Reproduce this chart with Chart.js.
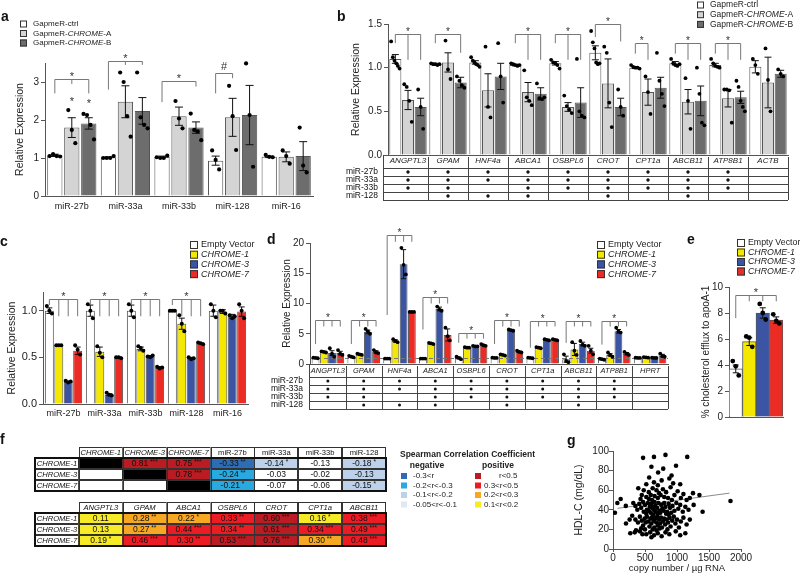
<!DOCTYPE html>
<html>
<head>
<meta charset="utf-8">
<title>CHROME figure</title>
<script src="https://cdn.jsdelivr.net/npm/chart.js@4.4.1/dist/chart.umd.min.js"></script>
<style>
  html, body { margin: 0; padding: 0; background: #fff; }
  #fig { position: relative; width: 800px; height: 574px; overflow: hidden; }
  #fig canvas { position: absolute; }
</style>
</head>
<body>
<div id="fig"></div>
<script>
// ---- a: GapmeR knockdown, miRNA levels
const aCats = ['miR-27b', 'miR-33a', 'miR-33b', 'miR-128', 'miR-16'];
const aCtrl = [1.07, 1.02, 1.03, 0.93, 1.03];
const aCtrlErr = [0.03, 0.01, 0.02, 0.12, 0.02];
const aCtrlDots = [[1.05, 1.1, 1.05, 1.04], [1.0, 1.0, 1.0, 1.05], [1.02, 1.0, 1.0, 1.06], [1.2, 0.95, 0.7], [1.08, 1.03, 1.02]];
const aGapA = [1.8, 2.48, 2.1, 2.07, 1.03];
const aGapAErr = [0.26, 0.42, 0.24, 0.5, 0.13];
const aGapADots = [[2.26, 1.74, 1.39], [3.25, 3.0, 2.1, 1.56], [2.5, 2.04, 1.78], [2.9, 2.1, 1.21], [1.2, 1.05, 0.85]];
const aGapB = [1.91, 2.24, 1.8, 2.13, 1.05];
const aGapBErr = [0.15, 0.35, 0.15, 0.78, 0.38];
const aGapBDots = [[2.16, 2.13, 1.87, 1.49], [3.25, 2.07, 1.87, 1.78], [2.17, 1.74, 1.7, 1.47], [3.49, 2.13, 0.77], [1.8, 0.8, 0.62]];

// ---- b: GapmeR knockdown, target genes
const bCats = ['ANGPTL3', 'GPAM', 'HNF4a', 'ABCA1', 'OSBPL6', 'CROT', 'CPT1a', 'ABCB11', 'ATP8B1', 'ACTB'];
const bCtrl = [1.10, 1.04, 1.06, 1.03, 1.05, 1.17, 1.00, 1.05, 1.03, 1.01];
const bCtrlErr = [0.05, 0.01, 0.02, 0.01, 0.02, 0.08, 0.01, 0.02, 0.02, 0.07];
const bCtrlDots = [[1.30, 1.12, 1.08, 1.05, 1.02, 0.99], [1.05, 1.04, 1.04, 1.03, 1.04], [1.12, 1.08, 1.06, 1.04, 1.03, 1.01],
  [1.05, 1.04, 1.03, 1.02, 1.03], [1.09, 1.06, 1.05, 1.03, 0.99], [1.42, 1.29, 1.22, 1.06, 1.04, 1.05],
  [1.03, 1.01, 1.00, 1.00, 0.99], [1.10, 1.05, 1.03, 1.02, 1.04], [1.10, 1.05, 1.02, 1.01, 1.00], [1.10, 1.03, 0.93]];
const bGapA = [0.63, 1.06, 0.74, 0.72, 0.55, 0.82, 0.72, 0.61, 0.65, 0.83];
const bGapAErr = [0.11, 0.11, 0.19, 0.11, 0.05, 0.28, 0.15, 0.14, 0.10, 0.29];
const bGapADots = [[0.81, 0.78, 0.62, 0.38], [1.31, 0.98, 0.87], [1.24, 0.55, 0.43], [0.97, 0.66, 0.62, 0.57],
  [0.68, 0.56, 0.52, 0.48], [1.24, 1.17, 0.6, 0.32], [0.9, 0.72, 0.47], [0.88, 0.62, 0.3], [0.75, 0.75, 0.74, 0.37], [1.22, 0.86, 0.5]];
const bGapB = [0.55, 0.83, 0.90, 0.70, 0.60, 0.55, 0.77, 0.62, 0.66, 0.93];
const bGapBErr = [0.10, 0.06, 0.15, 0.07, 0.17, 0.10, 0.12, 0.17, 0.07, 0.04];
const bGapBDots = [[0.75, 0.55, 0.30], [0.90, 0.85, 0.80, 0.77], [1.28, 0.90, 0.60], [0.82, 0.65, 0.64, 0.66],
  [1.10, 0.50, 0.45, 0.43], [0.75, 0.55, 0.45], [1.17, 0.85, 0.70, 0.56], [1.00, 0.70, 0.37, 0.34],
  [0.85, 0.78, 0.62, 0.55, 0.50], [0.98, 0.93, 0.90]];

// predicted miRNA targets (rows) per gene (columns)
const tblRows = ['miR-27b', 'miR-33a', 'miR-33b', 'miR-128'];
const bTargets = [
  [1, 1, 1, 1, 1, 1, 1, 1, 1, 0],
  [1, 1, 1, 1, 1, 1, 1, 1, 1, 0],
  [1, 1, 0, 1, 1, 1, 1, 1, 1, 0],
  [0, 1, 1, 1, 0, 1, 0, 1, 0, 0]];

// ---- c: overexpression, miRNA levels
const cCats = ['miR-27b', 'miR-33a', 'miR-33b', 'miR-128', 'miR-16'];
const cEV = [1.0, 1.0, 1.0, 1.0, 1.0];
const cEVErr = [0.03, 0.06, 0.06, 0.005, 0.06];
const cEVDots = [[1.05, 1.0, 0.97], [1.07, 1.0, 0.92], [1.07, 1.0, 0.93], [1.0, 1.0, 1.0], [1.07, 1.0, 0.93]];
const cC1 = [0.63, 0.56, 0.59, 0.86, 0.99];
const cC1Err = [0.005, 0.05, 0.02, 0.06, 0.02];
const cC1Dots = [[0.63, 0.63, 0.63], [0.62, 0.55, 0.5], [0.62, 0.6, 0.57], [0.95, 0.86, 0.78], [1.0, 1.0, 0.97]];
const cC3 = [0.24, 0.1, 0.51, 0.49, 0.94];
const cC3Err = [0.005, 0.01, 0.01, 0.01, 0.02];
const cC3Dots = [[0.25, 0.23, 0.24], [0.12, 0.1, 0.09], [0.51, 0.5, 0.52], [0.5, 0.48, 0.49], [0.95, 0.92, 0.94]];
const cC7 = [0.57, 0.5, 0.39, 0.65, 0.99];
const cC7Err = [0.04, 0.005, 0.01, 0.005, 0.05];
const cC7Dots = [[0.63, 0.58, 0.53], [0.5, 0.5, 0.49], [0.4, 0.38, 0.39], [0.66, 0.65, 0.64], [1.07, 1.0, 0.92]];

// ---- d: overexpression, target genes
const dCats = ['ANGPTL3', 'GPAM', 'HNF4a', 'ABCA1', 'OSBPL6', 'CROT', 'CPT1a', 'ABCB11', 'ATP8B1', 'HPRT'];
const dEV = [1.0, 1.2, 0.9, 0.9, 1.0, 1.0, 1.0, 0.8, 0.8, 1.0];
const dEVErr = [0.05, 0.1, 0.02, 0.02, 0.15, 0.05, 0.05, 0.5, 0.1, 0.05];
const dEVDots = [[1.05, 1.0, 0.95], [1.35, 1.2, 1.1], [0.9, 0.9, 0.9], [0.9, 0.9, 0.9], [1.2, 1.0, 0.8],
  [1.05, 1.0, 1.0], [1.05, 1.0, 0.95], [1.6, 0.5, 0.3], [0.9, 0.8, 0.7], [1.05, 1.0, 1.0]];
const dC1 = [2.0, 1.6, 3.8, 3.4, 2.7, 1.5, 2.7, 2.4, 1.5, 1.1];
const dC1Err = [0.1, 0.1, 0.2, 0.1, 0.1, 0.1, 0.1, 1.0, 0.2, 0.05];
const dC1Dots = [[2.1, 2.0, 1.9], [1.7, 1.6, 1.5], [4.1, 3.8, 3.6], [3.5, 3.4, 3.3], [2.8, 2.7, 2.7],
  [1.6, 1.5, 1.4], [2.8, 2.7, 2.6], [3.6, 2.2, 1.5], [1.9, 1.5, 1.2], [1.15, 1.1, 1.05]];
const dC3 = [1.8, 5.3, 16.5, 9.1, 2.9, 5.6, 4.0, 3.3, 5.4, 1.0];
const dC3Err = [0.4, 0.3, 2.4, 0.3, 0.05, 0.1, 0.1, 0.3, 0.3, 0.05];
const dC3Dots = [[2.6, 1.7, 1.2], [5.8, 5.4, 5.0], [19.2, 16.4, 14.8], [9.5, 9.0, 8.8], [3.0, 2.9, 2.9],
  [5.7, 5.6, 5.5], [4.1, 4.0, 3.9], [3.8, 3.2, 3.0], [6.0, 5.4, 5.2], [1.05, 1.0, 1.0]];
const dC7 = [1.8, 2.0, 8.6, 4.8, 3.1, 2.0, 4.0, 2.2, 1.7, 1.4];
const dC7Err = [0.3, 0.2, 0.05, 1.0, 0.1, 0.1, 0.1, 0.4, 0.2, 0.2];
const dC7Dots = [[2.3, 1.7, 1.5], [2.3, 1.9, 1.8], [8.6, 8.6, 8.6], [6.0, 4.6, 3.9], [3.3, 3.1, 3.0],
  [2.2, 2.0, 1.9], [4.1, 4.0, 3.9], [3.0, 2.2, 1.6], [2.0, 1.7, 1.5], [1.7, 1.3, 1.2]];
const dTargets = [
  [1, 1, 1, 1, 1, 1, 1, 1, 1, 0],
  [1, 1, 1, 1, 1, 1, 1, 1, 1, 0],
  [1, 1, 0, 1, 1, 1, 1, 1, 1, 0],
  [0, 1, 1, 1, 0, 1, 0, 1, 0, 0]];

// ---- e: cholesterol efflux
const eCats = [''];
const eEV = [3.7], eEVErr = [0.3], eEVDots = [[4.3, 3.9, 3.2]];
const eC1 = [5.8], eC1Err = [0.3], eC1Dots = [[6.2, 6.1, 5.4]];
const eC3 = [8.0], eC3Err = [0.4], eC3Dots = [[8.7, 8.0, 7.5]];
const eC7 = [7.45], eC7Err = [0.25], eC7Dots = [[7.9, 7.4, 7.2]];

// ---- f: Spearman correlations
const fRows = ['CHROME-1', 'CHROME-3', 'CHROME-7'];
const fCols1 = ['CHROME-1', 'CHROME-3', 'CHROME-7', 'miR-27b', 'miR-33a', 'miR-33b', 'miR-128'];
const fVals1 = [
  [null, 0.81, 0.75, -0.33, -0.14, -0.13, -0.18],
  [null, null, 0.78, -0.24, -0.03, -0.02, -0.13],
  [null, null, null, -0.21, -0.07, -0.06, -0.15]];
const fSig1 = [
  ['', '***', '***', '**', '*', '', '*'],
  ['', '', '***', '**', '', '', ''],
  ['', '', '', '*', '', '', '*']];
const fBin1 = [
  ['k', 'dr', 'dr', 'db', 'lb', 'w', 'lb'],
  ['w', 'k', 'dr', 'cy', 'w', 'w', 'lb'],
  ['w', 'w', 'k', 'cy', 'w', 'w', 'lb']];
const fCols2 = ['ANGPTL3', 'GPAM', 'ABCA1', 'OSBPL6', 'CROT', 'CPT1a', 'ABCB11'];
const fVals2 = [
  [0.11, 0.28, 0.22, 0.33, 0.60, 0.16, 0.38],
  [0.13, 0.27, 0.44, 0.34, 0.61, 0.34, 0.49],
  [0.19, 0.46, 0.30, 0.53, 0.76, 0.30, 0.48]];
const fSig2 = [
  ['', '**', '*', '**', '***', '*', '***'],
  ['', '**', '***', '**', '***', '***', '***'],
  ['*', '***', '**', '***', '***', '**', '***']];
const fBin2 = [
  ['y', 'o', 'o', 'r', 'dr', 'y', 'r'],
  ['y', 'o', 'r', 'r', 'dr', 'r', 'r'],
  ['y', 'r', 'r', 'dr', 'dr', 'o', 'r']];
const fNegLabels = ['-0.3<r', '-0.2<r<-0.3', '-0.1<r<-0.2', '-0.05<r<-0.1'];
const fNegBins = ['db', 'cy', 'lb', 'vl'];
const fPosLabels = ['r<0.5', '0.3<r<0.5', '0.2<r<0.3', '0.1<r<0.2'];
const fPosBins = ['dr', 'r', 'o', 'y'];

// ---- g: CHROME copy number vs HDL-C
const gCopies = [470, 640, 820, 1160, 600, 785, 985, 705, 565, 915, 880, 760, 640, 1050, 520, 700, 940,
  395, 480, 560, 620, 680, 720, 780, 830, 900, 960, 1010, 1100, 1250, 1350, 450, 520, 590, 650, 700, 745, 800, 860, 920, 1060, 1150, 1200, 430, 120, 560, 610,
  68, 30, 200, 317, 350, 380, 410, 440, 470, 500, 530, 545, 575, 600, 625, 650, 660, 690, 710, 730, 755, 770, 800, 820, 845, 870, 890, 930, 960, 990,
  1020, 1050, 1090, 1130, 1180, 1260, 1400, 1836, 480, 520, 560, 590, 630, 670, 700, 740, 790, 830, 870, 910, 650, 610,
  300, 350, 390, 420, 450, 470, 495, 510, 530, 550, 570, 585, 600, 615, 635, 645, 660, 675, 690, 700, 720, 735, 750, 765, 780, 800, 815, 840, 860, 885,
  900, 925, 950, 975, 1000, 1030, 1060, 1100, 1150, 1200, 203, 260, 440, 500, 620, 680, 730, 850,
  359, 421, 270, 340, 520, 580, 640, 700, 760, 820, 880, 980, 1130, 1050, 600, 460];
const gHdl = [93, 94, 96, 94, 84, 82, 85, 78, 73, 75, 72, 70, 68, 66, 66, 65, 67,
  62, 60, 58, 62, 60, 57, 61, 58, 63, 55, 59, 56, 57, 55, 55, 53, 55, 54, 52, 55, 53, 52, 50, 52, 50, 52, 51, 51, 51, 50,
  47, 37, 44, 47, 44, 40, 46, 42, 48, 45, 40, 47, 43, 46, 41, 48, 44, 42, 47, 39, 45, 41, 47, 43, 38, 46, 42, 44, 39, 47,
  41, 45, 38, 43, 40, 45, 38, 49, 38, 36, 39, 37, 35, 38, 36, 37, 39, 36, 35, 37, 39, 43,
  34, 30, 27, 33, 29, 24, 31, 27, 33, 28, 23, 31, 26, 33, 29, 22, 31, 27, 33, 24, 30, 26, 32, 22, 28, 31, 25, 30, 27, 32,
  23, 29, 33, 26, 30, 22, 28, 32, 25, 30, 26, 30, 21, 20, 20, 19, 21, 20,
  19, 18, 16, 17, 15, 17, 14, 16, 13, 17, 15, 18, 16, 14, 12, 15];
const gFitX = [70, 1820];
const gFitY = [41.5, 57];

// ------------------------------------------------------------------
const FONT = '"Liberation Sans", Arial, Helvetica, sans-serif';
const TXT = '#222';
const AXIS = '#555';
Chart.defaults.font.family = FONT;
Chart.defaults.color = TXT;

const GREY = { ctrl: '#ffffff', a: '#d4d4d4', b: '#6d6d6d' };
const OE = { ev: '#ffffff', c1: '#f5e800', c3: '#3b55a4', c7: '#ec2b24' };
const FCOL = { k: '#000000', w: '#ffffff', db: '#2e6db4', cy: '#29a9e0', lb: '#bdd2ea', vl: '#dfe9f5',
  dr: '#bb1b22', r: '#ec1c24', o: '#f7a823', y: '#f7ea26' };

const fig = document.getElementById('fig');

function addCanvas(left, top, w, h) {
  const c = document.createElement('canvas');
  c.width = w; c.height = h;
  c.style.left = left + 'px'; c.style.top = top + 'px';
  c.style.width = w + 'px'; c.style.height = h + 'px';
  fig.appendChild(c);
  return c;
}

function fnt(size, italic, bold) {
  return (italic ? 'italic ' : '') + (bold ? 'bold ' : '') + size + 'px ' + FONT;
}

// parts = [[text, italic], ...]
function richText(ctx, x, y, parts, size, center) {
  let w = 0;
  parts.forEach(([t, it]) => { ctx.font = fnt(size, it); w += ctx.measureText(t).width; });
  let cx = center ? x - w / 2 : x;
  ctx.textAlign = 'left';
  ctx.textBaseline = 'middle';
  parts.forEach(([t, it]) => {
    ctx.font = fnt(size, it);
    ctx.fillText(t, cx, y);
    cx += ctx.measureText(t).width;
  });
}

function drawLetter(ctx, l) {
  ctx.fillStyle = '#111';
  ctx.font = fnt(14, false, true);
  ctx.textAlign = 'left';
  ctx.textBaseline = 'middle';
  ctx.fillText(l.t, l.x, l.y);
}

function drawLegend(ctx, lg, series) {
  series.forEach((s, k) => {
    const y = lg.y + k * lg.step;
    ctx.fillStyle = s.color;
    ctx.fillRect(lg.x, y - lg.box / 2, lg.box, lg.box);
    ctx.strokeStyle = '#333';
    ctx.lineWidth = 1;
    ctx.strokeRect(lg.x + 0.5, y - lg.box / 2 + 0.5, lg.box - 1, lg.box - 1);
    ctx.fillStyle = TXT;
    richText(ctx, lg.x + lg.box + lg.gap, y, s.parts, lg.size);
  });
}

function drawGeneTable(chart, t) {
  const ctx = chart.ctx, xs = chart.scales.x, ca = chart.chartArea;
  const n = chart.data.labels.length, w = (xs.right - xs.left) / n;
  const top = ca.bottom, hb = top + t.headH, bot = hb + t.rowH * t.rows.length;
  const L = xs.left - t.ext;
  const px = v => Math.round(v) + 0.5;
  ctx.save();
  ctx.strokeStyle = '#444';
  ctx.lineWidth = 1;
  ctx.beginPath();
  ctx.moveTo(px(L), top); ctx.lineTo(px(L), bot);
  for (let k = 1; k <= n; k++) {
    const x = px(xs.left + k * w);
    ctx.moveTo(x, top + 2); ctx.lineTo(x, bot);
  }
  for (let r = 0; r <= t.rows.length; r++) {
    const y = px(hb + r * t.rowH);
    ctx.moveTo(L, y); ctx.lineTo(xs.right, y);
  }
  ctx.stroke();
  ctx.fillStyle = '#111';
  t.rows.forEach((name, r) => {
    const y = hb + (r + 0.5) * t.rowH;
    ctx.font = fnt(t.size);
    ctx.textAlign = 'right';
    ctx.textBaseline = 'middle';
    ctx.fillText(name, t.labelX, y);
    t.member[r].forEach((on, c) => {
      if (!on) return;
      ctx.beginPath();
      ctx.arc(xs.getPixelForValue(c), y, t.dotR, 0, Math.PI * 2);
      ctx.fill();
    });
  });
  ctx.restore();
}

// error bars, replicate dots, significance brackets, legend, panel letter
function barExtras(p) {
  return {
    id: 'barExtras',
    afterDatasetsDraw(chart) {
      const ctx = chart.ctx, ys = chart.scales.y, ca = chart.chartArea;
      ctx.save();
      if (p.dashAt !== undefined) {
        ctx.strokeStyle = '#777';
        ctx.lineWidth = 1;
        ctx.setLineDash([4, 3]);
        const yy = Math.round(ys.getPixelForValue(p.dashAt)) + 0.5;
        ctx.beginPath(); ctx.moveTo(ca.left, yy); ctx.lineTo(ca.right, yy); ctx.stroke();
        ctx.setLineDash([]);
      }
      p.series.forEach((s, di) => {
        chart.getDatasetMeta(di).data.forEach((bar, i) => {
          const m = s.mean[i], e = s.err[i];
          ctx.strokeStyle = '#111';
          ctx.lineWidth = 1;
          if (e > 0) {
            const yt = ys.getPixelForValue(m + e), yb = ys.getPixelForValue(Math.max(0, m - e));
            ctx.beginPath();
            ctx.moveTo(bar.x, yt); ctx.lineTo(bar.x, yb);
            ctx.moveTo(bar.x - p.cap, yt); ctx.lineTo(bar.x + p.cap, yt);
            ctx.moveTo(bar.x - p.cap, yb); ctx.lineTo(bar.x + p.cap, yb);
            ctx.stroke();
          }
          const pts = s.dots[i];
          const sp = pts.length > 1 ? Math.min(p.spread, bar.width * 0.7 / (pts.length - 1)) : 0;
          ctx.fillStyle = '#000';
          pts.forEach((v, k) => {
            ctx.beginPath();
            ctx.arc(bar.x + (k - (pts.length - 1) / 2) * sp, ys.getPixelForValue(v), p.r, 0, Math.PI * 2);
            ctx.fill();
          });
        });
      });
      ctx.strokeStyle = '#777';
      ctx.lineWidth = 1;
      ctx.fillStyle = '#333';
      ctx.font = fnt(p.starSize);
      ctx.textAlign = 'center';
      ctx.textBaseline = 'alphabetic';
      (p.brackets || []).forEach(b => {
        const xs = b.legs.map(([d]) => chart.getDatasetMeta(d).data[b.cat].x);
        const yh = Math.round(ys.getPixelForValue(b.h)) + 0.5;
        ctx.beginPath();
        ctx.moveTo(xs[0], yh); ctx.lineTo(xs[xs.length - 1], yh);
        b.legs.forEach(([, v], k) => { ctx.moveTo(xs[k], yh); ctx.lineTo(xs[k], ys.getPixelForValue(v)); });
        ctx.stroke();
        const lab = b.label || '*';
        ctx.fillText(lab, (xs[0] + xs[xs.length - 1]) / 2, yh - (lab === '#' ? 4 : 0));
      });
      (p.marks || []).forEach(mk => {
        const bar = chart.getDatasetMeta(mk.ds).data[mk.cat];
        ctx.fillText(mk.text, bar.x, ys.getPixelForValue(mk.v));
      });
      ctx.restore();
    },
    afterDraw(chart) {
      const ctx = chart.ctx;
      ctx.save();
      if (p.legend) drawLegend(ctx, p.legend, p.series);
      if (p.letter) drawLetter(ctx, p.letter);
      ctx.restore();
      if (p.table) drawGeneTable(chart, p.table);
    }
  };
}

function barPanel(p) {
  const canvas = addCanvas(p.left, p.top, p.width, p.height);
  return new Chart(canvas, {
    type: 'bar',
    data: {
      labels: p.labels,
      datasets: p.series.map(s => ({
        data: s.mean, backgroundColor: s.color, borderColor: '#555', borderWidth: 1
      }))
    },
    options: {
      responsive: false,
      animation: false,
      events: [],
      layout: { padding: p.pad },
      datasets: { bar: { categoryPercentage: p.cat, barPercentage: p.bar } },
      plugins: { legend: { display: false }, tooltip: { enabled: false } },
      scales: {
        x: {
          grid: { display: false, drawTicks: false },
          border: { color: AXIS },
          ticks: {
            display: p.xTicks !== false,
            font: { size: p.xSize, style: p.xItalic ? 'italic' : 'normal' },
            color: TXT, padding: p.xPad, autoSkip: false, maxRotation: 0
          },
          afterFit: s => { s.height = p.xH; }
        },
        y: {
          min: 0, max: p.yMax,
          border: { color: AXIS },
          grid: { drawOnChartArea: false, tickLength: 4, color: AXIS },
          ticks: { stepSize: p.step, font: { size: p.ySize }, color: TXT, padding: 2, callback: v => Number(v).toFixed(p.dec) },
          afterBuildTicks: s => {
            s.ticks = s.ticks.filter(t => Math.abs(t.value / p.step - Math.round(t.value / p.step)) < 1e-6);
          },
          title: { display: true, text: p.yTitle, font: { size: p.titleSize }, color: TXT, padding: 0 },
          afterFit: s => { s.width = p.yW; }
        }
      }
    },
    plugins: [barExtras(p)]
  });
}

const gapLegend = [[['GapmeR-ctrl']], [['GapmeR-'], ['CHROME', true], ['-A']], [['GapmeR-'], ['CHROME', true], ['-B']]];
const oeLegend = [[['Empty Vector']], [['CHROME-1', true]], [['CHROME-3', true]], [['CHROME-7', true]]];

// a
barPanel({
  left: 0, top: 0, width: 330, height: 215,
  pad: { left: 14, top: 63, right: 17, bottom: 0 },
  yW: 31, xH: 19, xPad: 5, xSize: 9, ySize: 10, titleSize: 10.5,
  labels: aCats, yMax: 3.5, step: 1, dec: 0, yTitle: 'Relative Expression',
  cat: 0.95, bar: 0.9, cap: 4, r: 2.1, spread: 3.5, starSize: 11,
  series: [
    { parts: gapLegend[0], color: GREY.ctrl, mean: aCtrl, err: aCtrlErr, dots: aCtrlDots },
    { parts: gapLegend[1], color: GREY.a, mean: aGapA, err: aGapAErr, dots: aGapADots },
    { parts: gapLegend[2], color: GREY.b, mean: aGapB, err: aGapBErr, dots: aGapBDots }
  ],
  brackets: [
    { cat: 0, h: 3.08, legs: [[0, 2.7], [1, 2.95], [2, 2.7]] },
    { cat: 1, h: 3.56, legs: [[0, 2.8], [1, 3.45], [2, 3.45]] },
    { cat: 2, h: 3.03, legs: [[0, 2.47], [2, 2.88]] },
    { cat: 3, h: 3.23, legs: [[0, 2.7], [1, 3.1]], label: '#' }
  ],
  marks: [{ ds: 1, cat: 0, v: 2.4, text: '*' }, { ds: 2, cat: 0, v: 2.34, text: '*' }],
  legend: { x: 20, y: 24, step: 9.5, box: 7, gap: 6, size: 8 },
  letter: { t: 'a', x: 1, y: 17 }
});

// b
barPanel({
  left: 330, top: 0, width: 470, height: 210,
  pad: { left: 20, top: 24, right: 12, bottom: 42 },
  yW: 38, xH: 13, xPad: 1, xSize: 8, xItalic: true, ySize: 10, titleSize: 10.5,
  labels: bCats, yMax: 1.5, step: 0.5, dec: 1, yTitle: 'Relative Expression',
  cat: 0.95, bar: 0.95, cap: 3.5, r: 1.9, spread: 2.5, starSize: 10,
  series: [
    { parts: gapLegend[0], color: GREY.ctrl, mean: bCtrl, err: bCtrlErr, dots: bCtrlDots },
    { parts: gapLegend[1], color: GREY.a, mean: bGapA, err: bGapAErr, dots: bGapADots },
    { parts: gapLegend[2], color: GREY.b, mean: bGapB, err: bGapBErr, dots: bGapBDots }
  ],
  brackets: [
    { cat: 0, h: 1.39, legs: [[0, 1.28], [1, 1.09], [2, 1.09]] },
    { cat: 1, h: 1.39, legs: [[0, 1.28], [2, 1.17]] },
    { cat: 3, h: 1.39, legs: [[0, 1.28], [1, 1.09], [2, 1.09]] },
    { cat: 4, h: 1.39, legs: [[0, 1.28], [1, 1.09], [2, 1.09]] },
    { cat: 5, h: 1.5, legs: [[0, 1.35], [2, 1.3]] },
    { cat: 6, h: 1.28, legs: [[0, 1.16], [1, 1.09]] },
    { cat: 7, h: 1.28, legs: [[0, 1.16], [1, 1.09], [2, 1.09]] },
    { cat: 8, h: 1.28, legs: [[0, 1.16], [1, 1.09], [2, 1.09]] }
  ],
  legend: { x: 367, y: 5, step: 9.7, box: 7, gap: 6, size: 8.5 },
  letter: { t: 'b', x: 7, y: 17 },
  table: { rows: tblRows, member: bTargets, headH: 13, rowH: 8, ext: 5, labelX: 48, size: 8.5, dotR: 1.7 }
});

// c
barPanel({
  left: 0, top: 230, width: 262, height: 190,
  pad: { left: 6, top: 62, right: 14, bottom: 0 },
  yW: 37, xH: 16, xPad: 4, xSize: 9, ySize: 11, titleSize: 10.5,
  labels: cCats, yMax: 1.2, step: 0.5, dec: 1, yTitle: 'Relative Expression',
  cat: 0.92, bar: 0.95, cap: 3, r: 2, spread: 2.5, starSize: 11,
  series: [
    { parts: oeLegend[0], color: OE.ev, mean: cEV, err: cEVErr, dots: cEVDots },
    { parts: oeLegend[1], color: OE.c1, mean: cC1, err: cC1Err, dots: cC1Dots },
    { parts: oeLegend[2], color: OE.c3, mean: cC3, err: cC3Err, dots: cC3Dots },
    { parts: oeLegend[3], color: OE.c7, mean: cC7, err: cC7Err, dots: cC7Dots }
  ],
  brackets: [0, 1, 2, 3].map(c => ({ cat: c, h: 1.13, legs: [[0, 1.06], [1, 0.94], [2, 0.94], [3, 0.94]] })),
  legend: { x: 190, y: 15, step: 9.7, box: 8, gap: 3, size: 9 },
  letter: { t: 'c', x: 0, y: 12 }
});

// d
barPanel({
  left: 262, top: 218, width: 410, height: 202,
  pad: { left: 19, top: 25, right: 4, bottom: 43 },
  yW: 29, xH: 13, xPad: 2, xSize: 7.5, xItalic: true, ySize: 10, titleSize: 10,
  labels: dCats, yMax: 20, step: 5, dec: 0, yTitle: 'Relative Expression',
  cat: 0.92, bar: 0.95, cap: 2.5, r: 1.9, spread: 2.2, starSize: 10, dashAt: 1,
  series: [
    { parts: oeLegend[0], color: OE.ev, mean: dEV, err: dEVErr, dots: dEVDots },
    { parts: oeLegend[1], color: OE.c1, mean: dC1, err: dC1Err, dots: dC1Dots },
    { parts: oeLegend[2], color: OE.c3, mean: dC3, err: dC3Err, dots: dC3Dots },
    { parts: oeLegend[3], color: OE.c7, mean: dC7, err: dC7Err, dots: dC7Dots }
  ],
  brackets: [
    { cat: 0, h: 7.3, legs: [[0, 3.3], [1, 6.2], [2, 6.2], [3, 6.2]] },
    { cat: 1, h: 7.3, legs: [[0, 3.3], [1, 6.2], [2, 6.2], [3, 6.2]] },
    { cat: 2, h: 21.3, legs: [[0, 8.1], [1, 20.2], [2, 20.2], [3, 20.2]] },
    { cat: 3, h: 11.1, legs: [[0, 5.7], [1, 10], [2, 10], [3, 10]] },
    { cat: 4, h: 5.2, legs: [[0, 3.5], [1, 4.2], [2, 4.2], [3, 4.2]] },
    { cat: 5, h: 7.3, legs: [[0, 3.3], [1, 6.2], [2, 6.2], [3, 6.2]] },
    { cat: 6, h: 7.1, legs: [[0, 2.7], [1, 6.2], [2, 6.2], [3, 6.2]] },
    { cat: 7, h: 7.1, legs: [[0, 3.5], [1, 6.2], [2, 6.2], [3, 6.2]] },
    { cat: 8, h: 7.1, legs: [[0, 3.2], [1, 6.2], [2, 6.2], [3, 6.2]] }
  ],
  legend: { x: 335, y: 27, step: 9.7, box: 8, gap: 3, size: 9 },
  letter: { t: 'd', x: 5, y: 22 },
  table: { rows: tblRows, member: dTargets, headH: 13, rowH: 8, ext: 1, labelX: 41, size: 8.5, dotR: 1.5 }
});

// e
barPanel({
  left: 672, top: 230, width: 128, height: 195,
  pad: { left: 28, top: 57, right: 17, bottom: 0 },
  yW: 29, xH: 8, xPad: 0, xSize: 9, xTicks: false, ySize: 10, titleSize: 10,
  labels: eCats, yMax: 10, step: 2, dec: 0, yTitle: '% cholesterol efflux to apoA-1',
  cat: 1, bar: 1, cap: 3, r: 2.4, spread: 3, starSize: 11,
  series: [
    { parts: oeLegend[0], color: OE.ev, mean: eEV, err: eEVErr, dots: eEVDots },
    { parts: oeLegend[1], color: OE.c1, mean: eC1, err: eC1Err, dots: eC1Dots },
    { parts: oeLegend[2], color: OE.c3, mean: eC3, err: eC3Err, dots: eC3Dots },
    { parts: oeLegend[3], color: OE.c7, mean: eC7, err: eC7Err, dots: eC7Dots }
  ],
  brackets: [{ cat: 0, h: 9.4, legs: [[0, 7.6], [1, 8.9], [2, 8.9], [3, 8.9]] }],
  legend: { x: 65, y: 13, step: 9.5, box: 8, gap: 3, size: 8.8 },
  letter: { t: 'e', x: 15, y: 10 }
});

// f: correlation tables drawn on index scales
function drawCorr(ctx, xs, ys, r0, cols, vals, sig, bins) {
  const X = v => xs.getPixelForValue(v), Y = v => ys.getPixelForValue(v);
  const cell = (c, r) => {
    const x0 = X(c - 0.5), x1 = X(c + 0.5);
    const y0 = Math.min(Y(r - 0.5), Y(r + 0.5)), y1 = Math.max(Y(r - 0.5), Y(r + 0.5));
    return [x0, y0, x1 - x0, y1 - y0];
  };
  const box = (c, r, fill) => {
    const [x, y, w, h] = cell(c, r);
    ctx.fillStyle = fill;
    ctx.fillRect(x, y, w, h);
    ctx.strokeStyle = '#333';
    ctx.lineWidth = 1;
    ctx.strokeRect(Math.round(x) + 0.5, Math.round(y) + 0.5, Math.round(w) - 1, Math.round(h) - 1);
    return [x + w / 2, y + h / 2];
  };
  ctx.fillStyle = '#111';
  cols.forEach((name, c) => {
    const [cx, cy] = box(c + 1, r0, '#fff');
    ctx.fillStyle = '#111';
    richText(ctx, cx, cy, [[name, !/^miR/.test(name)]], 7.6, true);
  });
  fRows.forEach((name, r) => {
    const rr = r0 + 1 + r;
    const [hx, hy] = box(0, rr, '#fff');
    ctx.fillStyle = '#111';
    richText(ctx, hx, hy, [[name, true]], 7.6, true);
    vals[r].forEach((v, c) => {
      const [cx, cy] = box(c + 1, rr, FCOL[bins[r][c]]);
      if (v === null) return;
      const s = v.toFixed(2), st = sig[r][c] ? ' ' + sig[r][c] : '';
      ctx.font = fnt(8.5); const w1 = ctx.measureText(s).width;
      ctx.font = fnt(6.5); const w2 = ctx.measureText(st).width;
      const x0 = cx - (w1 + w2) / 2;
      ctx.fillStyle = '#111';
      ctx.textAlign = 'left';
      ctx.textBaseline = 'middle';
      ctx.font = fnt(8.5); ctx.fillText(s, x0, cy + 0.5);
      ctx.font = fnt(6.5); ctx.fillText(st, x0 + w1, cy - 1.5);
    });
  });
  const [ax, ay] = cell(0, r0 + 1);
  const [bx, by, bw, bh] = cell(cols.length, r0 + fRows.length);
  ctx.strokeStyle = '#111';
  ctx.lineWidth = 2;
  ctx.strokeRect(ax, ay, bx + bw - ax, by + bh - ay);
}

const fTables = {
  id: 'fTables',
  afterDraw(chart) {
    const ctx = chart.ctx, xs = chart.scales.x, ys = chart.scales.y;
    ctx.save();
    drawCorr(ctx, xs, ys, 0, fCols1, fVals1, fSig1, fBin1);
    drawCorr(ctx, xs, ys, 5, fCols2, fVals2, fSig2, fBin2);
    // colour key
    ctx.fillStyle = '#222';
    ctx.font = fnt(8.5, false, true);
    ctx.textAlign = 'left';
    ctx.textBaseline = 'middle';
    ctx.fillText('Spearman Correlation Coefficient', 400, 25);
    ctx.textAlign = 'center';
    ctx.fillText('negative', 427, 36);
    ctx.fillText('positive', 498, 36);
    const key = (x, tx, labels, keyBins) => labels.forEach((lab, k) => {
      const y = 46 + k * 9.5;
      ctx.fillStyle = FCOL[keyBins[k]];
      ctx.fillRect(x, y - 3, 6, 6);
      ctx.fillStyle = '#222';
      ctx.font = fnt(8);
      ctx.textAlign = 'left';
      ctx.fillText(lab, k === 0 && labels === fPosLabels ? tx + 15 : tx, y);
    });
    key(401, 413, fNegLabels, fNegBins);
    key(475, 484, fPosLabels, fPosBins);
    drawLetter(ctx, { t: 'f', x: 0, y: 10 });
    ctx.restore();
  }
};

new Chart(addCanvas(0, 430, 560, 130), {
  type: 'scatter',
  data: { datasets: [] },
  options: {
    responsive: false, animation: false, events: [],
    layout: { padding: { left: 35, right: 174, top: 17, bottom: 14 } },
    plugins: { legend: { display: false }, tooltip: { enabled: false } },
    scales: {
      x: { type: 'linear', display: false, min: -0.5, max: 7.5 },
      y: { type: 'linear', display: false, min: -0.5, max: 8.5, reverse: true }
    }
  },
  plugins: [fTables]
});

// g
new Chart(addCanvas(560, 430, 240, 144), {
  type: 'scatter',
  data: {
    datasets: [
      { data: gCopies.map((x, i) => ({ x, y: gHdl[i] })), pointRadius: 2.3, pointBackgroundColor: '#000', pointBorderWidth: 0 },
      { data: gFitX.map((x, i) => ({ x, y: gFitY[i] })), showLine: true, borderColor: '#8a8a8a', borderWidth: 1, pointRadius: 0 }
    ]
  },
  options: {
    responsive: false, animation: false, events: [],
    layout: { padding: { left: 13, top: 21, right: 59, bottom: 0 } },
    plugins: { legend: { display: false }, tooltip: { enabled: false } },
    scales: {
      x: {
        type: 'linear', min: 0, max: 2000,
        border: { color: AXIS },
        grid: { drawOnChartArea: false, tickLength: 3, color: AXIS },
        ticks: { stepSize: 500, font: { size: 10 }, color: TXT, padding: 0, callback: v => String(v) },
        title: { display: true, text: 'copy number / µg RNA', font: { size: 9.5 }, color: TXT, padding: 0 },
        afterFit: s => { s.height = 25; }
      },
      y: {
        min: 0, max: 100,
        border: { color: AXIS },
        grid: { drawOnChartArea: false, tickLength: 4, color: AXIS },
        ticks: { stepSize: 20, font: { size: 10 }, color: TXT, padding: 0, callback: v => String(v) },
        title: { display: true, text: 'HDL-C (mg/dL)', font: { size: 10.5 }, color: TXT, padding: 0 },
        afterFit: s => { s.width = 40; }
      }
    }
  },
  plugins: [{ id: 'gLetter', afterDraw(chart) { chart.ctx.save(); drawLetter(chart.ctx, { t: 'g', x: 7, y: 11 }); chart.ctx.restore(); } }]
});
</script>
</body>
</html>
